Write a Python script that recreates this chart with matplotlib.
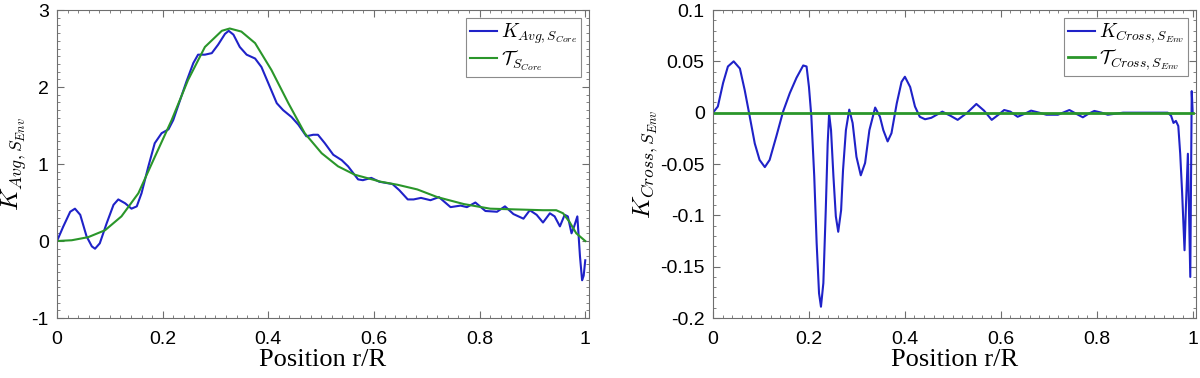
import matplotlib
matplotlib.use("Agg")
import matplotlib.pyplot as plt
from matplotlib.ticker import MultipleLocator

plt.rcParams['mathtext.fontset'] = 'cm'
plt.rcParams['font.family'] = ['Liberation Sans', 'DejaVu Sans']

# --- left panel: averaged kernel vs target ---
x_avg = [0.000, 0.012, 0.025, 0.034, 0.044, 0.056, 0.066, 0.072, 0.081, 0.094,
         0.107, 0.116, 0.129, 0.141, 0.151, 0.160, 0.173, 0.185, 0.198, 0.211,
         0.220, 0.233, 0.245, 0.258, 0.267, 0.280, 0.293, 0.305, 0.318, 0.325,
         0.334, 0.346, 0.359, 0.375, 0.387, 0.400, 0.416, 0.428, 0.444, 0.457,
         0.472, 0.485, 0.494, 0.507, 0.523, 0.539, 0.551, 0.561, 0.570, 0.579,
         0.595, 0.610, 0.635, 0.648, 0.664, 0.675, 0.689, 0.707, 0.723, 0.745,
         0.764, 0.776, 0.792, 0.811, 0.833, 0.848, 0.864, 0.883, 0.895, 0.908,
         0.920, 0.933, 0.942, 0.952, 0.961, 0.967, 0.974, 0.979, 0.985, 0.990,
         0.994, 0.997, 1.000]
k_avg = [0.00, 0.19, 0.38, 0.42, 0.34, 0.06, -0.07, -0.10, -0.03, 0.23,
         0.47, 0.54, 0.49, 0.42, 0.45, 0.62, 0.97, 1.27, 1.40, 1.45,
         1.57, 1.83, 2.07, 2.31, 2.42, 2.42, 2.44, 2.55, 2.69, 2.73,
         2.68, 2.52, 2.42, 2.37, 2.26, 2.05, 1.79, 1.70, 1.61, 1.51,
         1.36, 1.38, 1.38, 1.27, 1.12, 1.05, 0.97, 0.88, 0.80, 0.79,
         0.82, 0.77, 0.74, 0.66, 0.54, 0.54, 0.56, 0.53, 0.57, 0.44,
         0.46, 0.44, 0.50, 0.39, 0.38, 0.45, 0.35, 0.29, 0.40, 0.34,
         0.24, 0.36, 0.32, 0.19, 0.34, 0.32, 0.10, 0.19, 0.32, -0.20,
         -0.51, -0.45, -0.25]

x_tgt = [0.000, 0.028, 0.059, 0.091, 0.122, 0.154, 0.185, 0.217, 0.248, 0.280,
         0.312, 0.327, 0.349, 0.375, 0.406, 0.438, 0.469, 0.501, 0.532, 0.564,
         0.613, 0.645, 0.682, 0.720, 0.770, 0.820, 0.870, 0.920, 0.945, 0.958,
         0.970, 0.983, 1.000]
t_core = [0.00, 0.01, 0.05, 0.14, 0.32, 0.62, 1.09, 1.57, 2.09, 2.52,
          2.73, 2.76, 2.72, 2.57, 2.22, 1.79, 1.40, 1.14, 0.97, 0.86,
          0.77, 0.73, 0.67, 0.57, 0.48, 0.42, 0.41, 0.40, 0.40, 0.36,
          0.25, 0.10, 0.00]

# --- right panel: cross-term kernel ---
x_cross = [0.000, 0.010, 0.021, 0.031, 0.043, 0.056, 0.066, 0.075, 0.087, 0.097,
           0.108, 0.118, 0.132, 0.146, 0.160, 0.174, 0.188, 0.195, 0.200, 0.205,
           0.211, 0.216, 0.221, 0.225, 0.230, 0.235, 0.239, 0.242, 0.246, 0.251,
           0.256, 0.261, 0.267, 0.271, 0.277, 0.284, 0.291, 0.299, 0.308, 0.317,
           0.326, 0.338, 0.348, 0.355, 0.364, 0.372, 0.383, 0.393, 0.400, 0.411,
           0.421, 0.431, 0.442, 0.455, 0.478, 0.495, 0.510, 0.530, 0.549, 0.565,
           0.581, 0.595, 0.607, 0.620, 0.635, 0.650, 0.663, 0.680, 0.695, 0.719,
           0.743, 0.757, 0.771, 0.783, 0.795, 0.810, 0.823, 0.855, 0.912, 0.948,
           0.955, 0.960, 0.965, 0.970, 0.974, 0.978, 0.983, 0.986, 0.990, 0.995,
           0.998, 1.000]
k_cross = [0.000, 0.006, 0.029, 0.045, 0.050, 0.043, 0.022, 0.000, -0.030, -0.046,
           -0.053, -0.046, -0.023, 0.001, 0.019, 0.034, 0.046, 0.045, 0.025, -0.004,
           -0.062, -0.127, -0.176, -0.189, -0.166, -0.095, -0.030, -0.001, -0.017, -0.062,
           -0.101, -0.116, -0.095, -0.056, -0.017, 0.003, -0.010, -0.043, -0.061, -0.049,
           -0.017, 0.005, -0.004, -0.017, -0.028, -0.020, 0.009, 0.030, 0.035, 0.025,
           0.006, -0.004, -0.0064, -0.005, 0.001, -0.003, -0.007, 0.000, 0.0085, 0.002,
           -0.007, -0.002, 0.0026, 0.001, -0.004, -0.001, 0.002, 0.000, -0.002, -0.002,
           0.0026, -0.001, -0.0045, -0.001, 0.0017, 0.000, -0.002, 0.000, 0.000, 0.000,
           -0.003, -0.010, -0.008, -0.013, -0.040, -0.078, -0.134, -0.090, -0.040, -0.160,
           0.021, 0.000]
x_tcross = [0.0, 1.0]
t_cross = [0.0, 0.0]

blue = '#1f22c8'
green = '#2a962a'
frame = '#6e6e6e'

fig = plt.figure(figsize=(12, 3.78), dpi=100)
ax1 = fig.add_axes([0.0475, 0.1587, 0.4433, 0.8148])
ax2 = fig.add_axes([0.5942, 0.1587, 0.4025, 0.8148])

ax1.plot(x_avg, k_avg, color=blue, lw=1.5, label=r'$K_{Avg,S_{Core}}$')
ax1.plot(x_tgt, t_core, color=green, lw=1.5, label=r'$\mathcal{T}_{S_{Core}}$')
ax1.set_ylim(-1, 3)
ax1.set_ylabel(r'$K_{Avg,S_{Env}}$', fontsize=18, labelpad=2)
ax1.yaxis.set_major_locator(MultipleLocator(1))
ax1.yaxis.set_minor_locator(MultipleLocator(0.1))

ax2.plot(x_cross, k_cross, color=blue, lw=1.5, label=r'$K_{Cross,S_{Env}}$')
ax2.plot(x_tcross, t_cross, color=green, lw=2, label=r'$\mathcal{T}_{Cross,S_{Env}}$')
ax2.set_ylim(-0.2, 0.1)
ax2.set_ylabel(r'$K_{Cross,S_{Env}}$', fontsize=18, labelpad=0)
ax2.yaxis.set_major_locator(MultipleLocator(0.05))
ax2.yaxis.set_minor_locator(MultipleLocator(0.01))

for ax in (ax1, ax2):
    ax.set_xlim(0, 1.007)
    ax.xaxis.set_major_locator(MultipleLocator(0.2))
    ax.xaxis.set_minor_locator(MultipleLocator(0.02))
    ax.set_xlabel('Position r/R', family='Liberation Serif', fontsize=19, labelpad=1)
    ax.tick_params(which='both', direction='in', top=True, right=True,
                   color=frame, labelsize=14)
    ax.tick_params(axis='x', pad=9)
    ax.tick_params(axis='y', pad=6)
    ax.tick_params(which='major', length=5)
    ax.tick_params(which='minor', length=2.5)
    for s in ax.spines.values():
        s.set_color(frame)
        s.set_linewidth(0.8)
    ax.xaxis.set_major_formatter(plt.FuncFormatter(lambda v, p: f'{v:g}'))
    ax.yaxis.set_major_formatter(plt.FuncFormatter(lambda v, p: f'{v:g}'))
    leg = ax.legend(loc='upper right', fontsize=14, frameon=True, fancybox=False,
                    handlelength=1.4, handletextpad=0.2, borderaxespad=0.4,
                    borderpad=0.2, labelspacing=0.1)
    leg.get_frame().set_edgecolor(frame)
    leg.get_frame().set_linewidth(0.8)

fig.savefig('out.png', dpi=100)
